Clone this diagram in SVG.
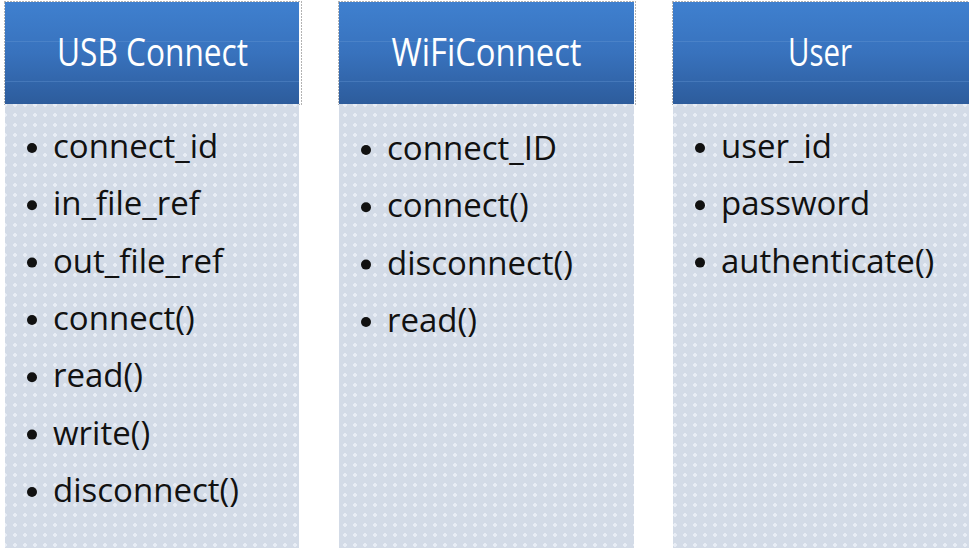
<svg xmlns="http://www.w3.org/2000/svg" width="969" height="552" viewBox="0 0 969 552">
<defs>
<linearGradient id="hdr" x1="0" y1="0" x2="0" y2="1">
<stop offset="0" stop-color="#3f80cf"/>
<stop offset="0.5" stop-color="#3872bd"/>
<stop offset="1" stop-color="#2d5c9c"/>
</linearGradient>
<pattern id="dots" x="0" y="0" width="10" height="10" patternUnits="userSpaceOnUse">
<rect width="10" height="10" fill="#d3dbe7"/>
<rect x="4" y="3" width="2" height="4" fill="#e8edf5"/>
<rect x="3" y="4" width="4" height="2" fill="#e8edf5"/>
</pattern>
</defs>
<style>
.hdr{fill:url(#hdr)}
.body{fill:url(#dots)}
.frame{fill:none;stroke:#666;stroke-width:1;stroke-dasharray:1 2}
.hl{stroke:#6a9ad6;stroke-width:1;opacity:0.35}
.title{font-family:"Open Sans","Noto Sans",sans-serif;font-size:38px;fill:#ffffff;text-anchor:middle}
.item{font-family:"Open Sans","Noto Sans",sans-serif;font-size:33px;fill:#111111}
.bul{fill:#111111}
</style>
<rect width="969" height="552" fill="#ffffff"/>
<g id="usb-connect">
<rect class="frame" x="4.5" y="1.5" width="297" height="103"/>
<rect class="hdr" x="5" y="2" width="294" height="102"/>
<line class="hl" x1="5" y1="41.5" x2="299" y2="41.5"/>
<line class="hl" x1="5" y1="81.5" x2="299" y2="81.5"/>
<rect class="body" x="5" y="104" width="294" height="444"/>
<text class="title" x="152.5" y="66" textLength="191" lengthAdjust="spacingAndGlyphs">USB Connect</text>
<circle class="bul" cx="32" cy="148" r="5"/>
<text class="item" x="53" y="158">connect_id</text>
<circle class="bul" cx="32" cy="205.3" r="5"/>
<text class="item" x="53" y="215.3">in_file_ref</text>
<circle class="bul" cx="32" cy="262.6" r="5"/>
<text class="item" x="53" y="272.6">out_file_ref</text>
<circle class="bul" cx="32" cy="320" r="5"/>
<text class="item" x="53" y="330">connect()</text>
<circle class="bul" cx="32" cy="377.3" r="5"/>
<text class="item" x="53" y="387.3">read()</text>
<circle class="bul" cx="32" cy="434.6" r="5"/>
<text class="item" x="53" y="444.6">write()</text>
<circle class="bul" cx="32" cy="492" r="5"/>
<text class="item" x="53" y="502">disconnect()</text>
</g>
<g id="wifi-connect">
<rect class="frame" x="338.5" y="1.5" width="297" height="103"/>
<rect class="hdr" x="339" y="2" width="295" height="102"/>
<line class="hl" x1="339" y1="41.5" x2="634" y2="41.5"/>
<line class="hl" x1="339" y1="81.5" x2="634" y2="81.5"/>
<rect class="body" x="339" y="104" width="295" height="444"/>
<text class="title" x="486.5" y="66" textLength="190" lengthAdjust="spacingAndGlyphs">WiFiConnect</text>
<circle class="bul" cx="366" cy="150" r="5"/>
<text class="item" x="387" y="160">connect_ID</text>
<circle class="bul" cx="366" cy="207.3" r="5"/>
<text class="item" x="387" y="217.3">connect()</text>
<circle class="bul" cx="366" cy="264.6" r="5"/>
<text class="item" x="387" y="274.6">disconnect()</text>
<circle class="bul" cx="366" cy="322" r="5"/>
<text class="item" x="387" y="332">read()</text>
</g>
<g id="user">
<rect class="frame" x="672.5" y="1.5" width="297" height="103"/>
<rect class="hdr" x="673" y="2" width="296" height="102"/>
<line class="hl" x1="673" y1="41.5" x2="969" y2="41.5"/>
<line class="hl" x1="673" y1="81.5" x2="969" y2="81.5"/>
<rect class="body" x="673" y="104" width="296" height="444"/>
<text class="title" x="820" y="66" textLength="64" lengthAdjust="spacingAndGlyphs">User</text>
<circle class="bul" cx="700" cy="148" r="5"/>
<text class="item" x="721" y="158">user_id</text>
<circle class="bul" cx="700" cy="205.3" r="5"/>
<text class="item" x="721" y="215.3">password</text>
<circle class="bul" cx="700" cy="262.6" r="5"/>
<text class="item" x="721" y="272.6">authenticate()</text>
</g>
<g id="connectors"/>
</svg>
